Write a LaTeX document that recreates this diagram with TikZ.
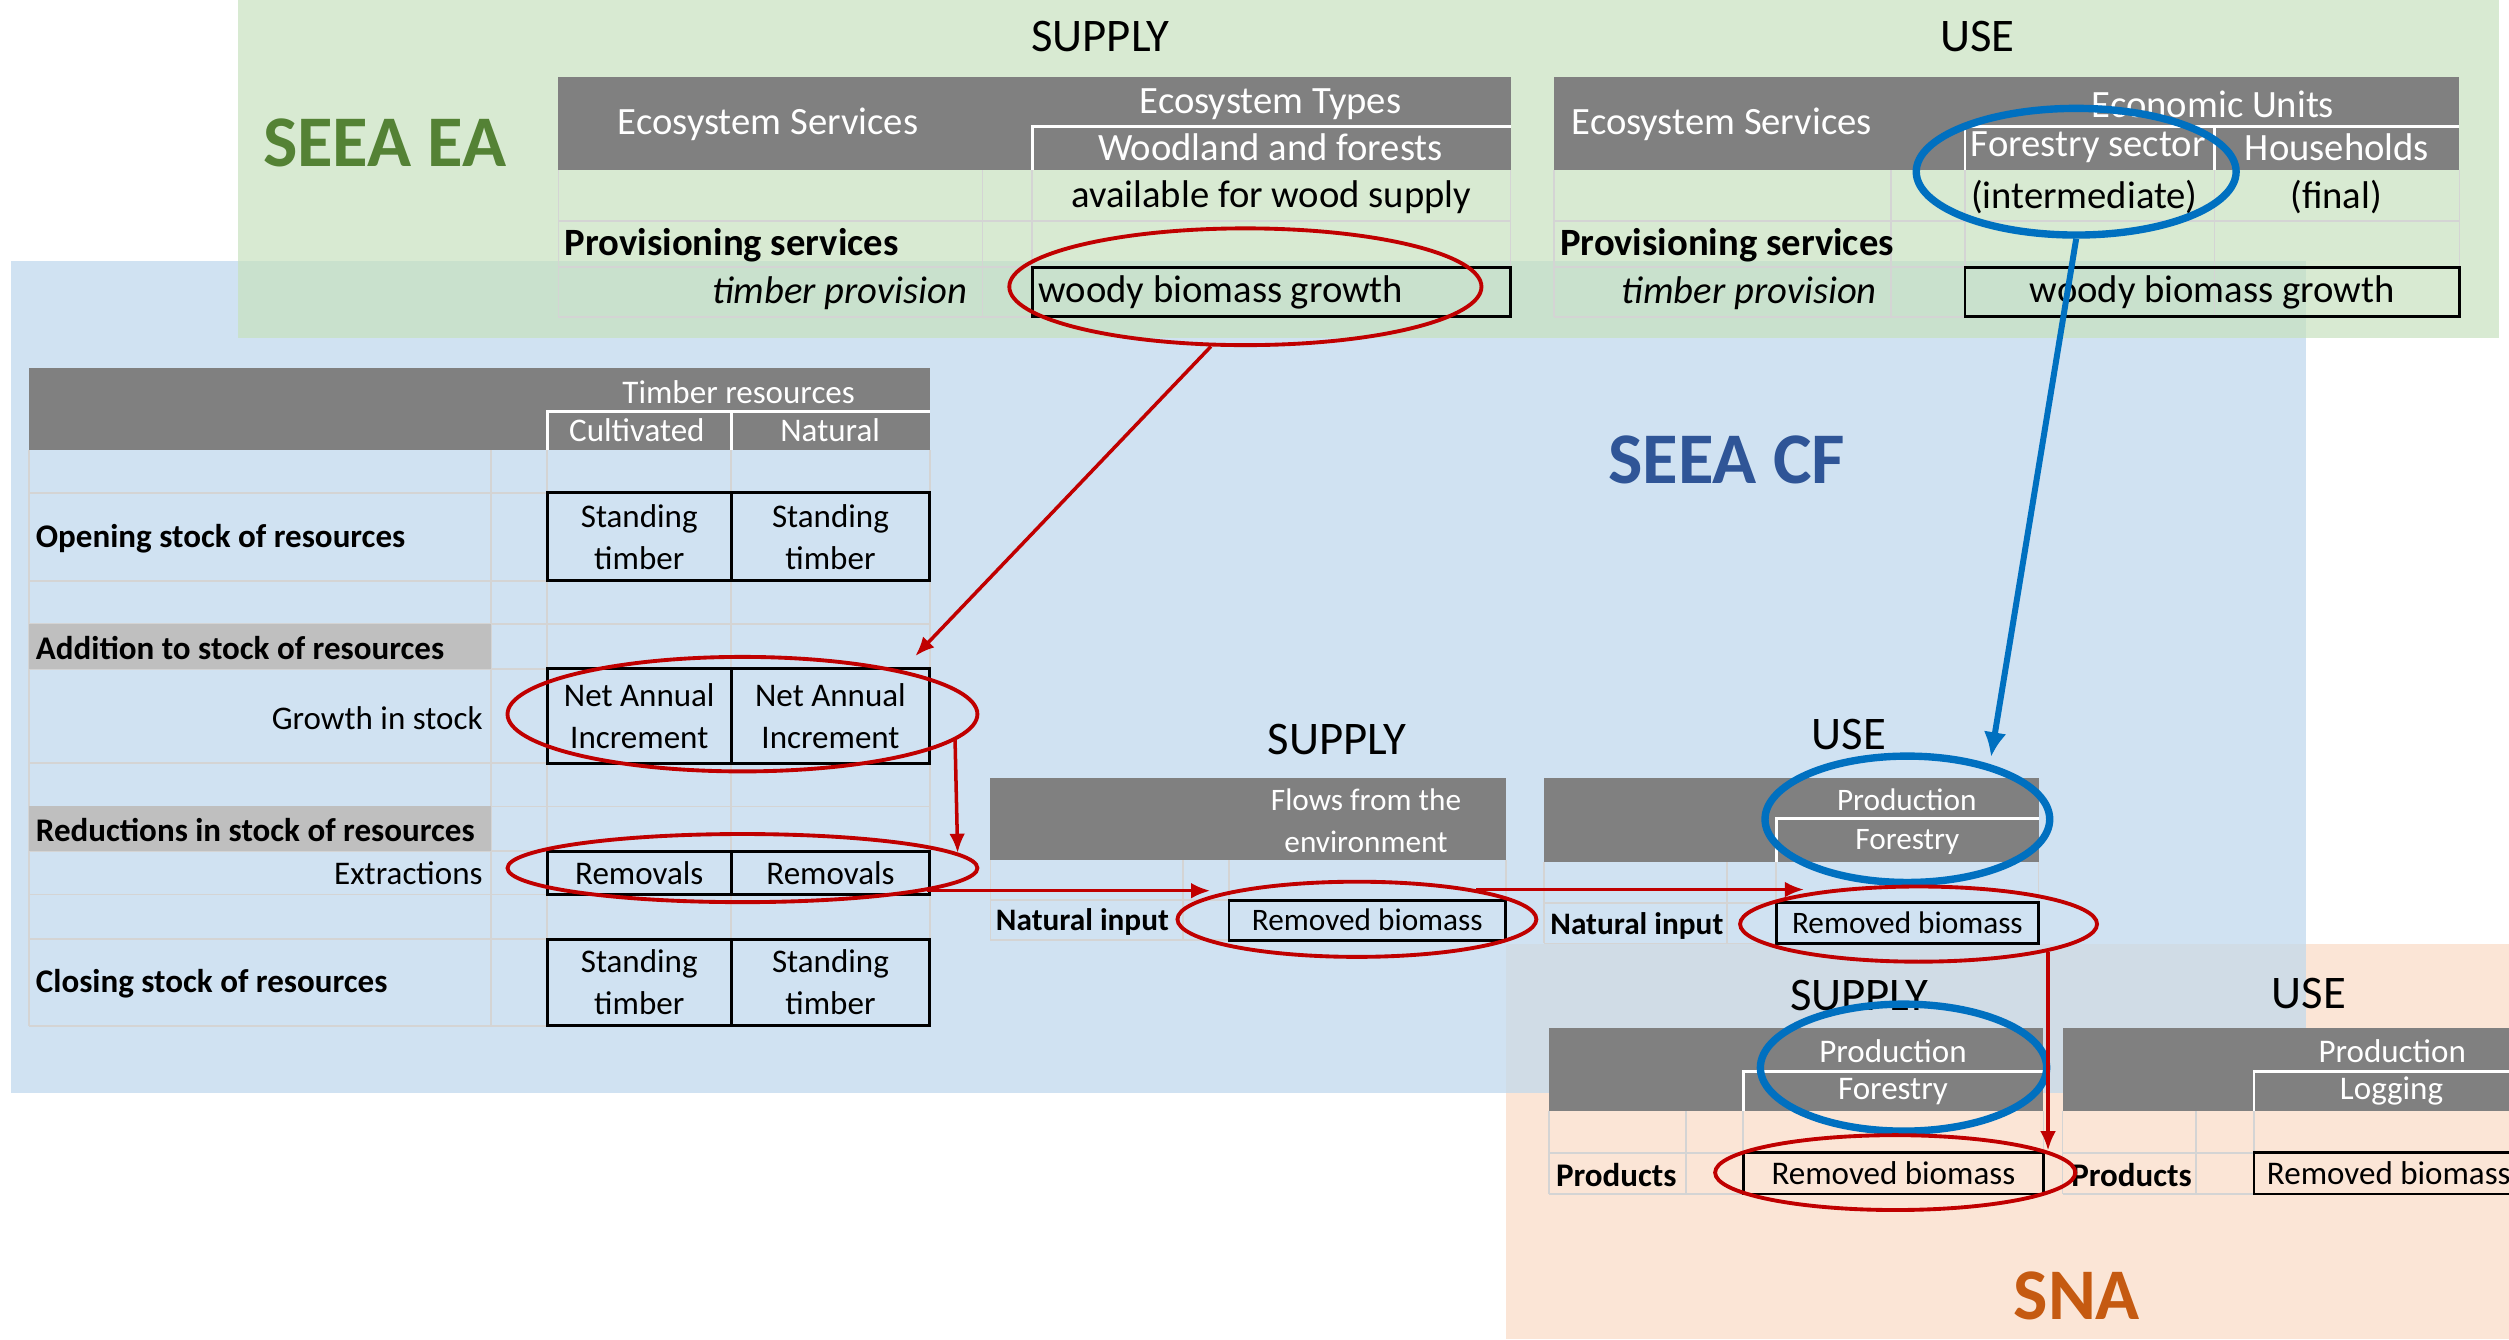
\documentclass[tikz,border=0pt]{standalone}
\usepackage{fontspec}
\setmainfont{Carlito}
\usepackage{xcolor}
\usepackage{tikz}
\usetikzlibrary{arrows.meta}
\usetikzlibrary{shapes.geometric}
\definecolor{eagreen}{HTML}{D8EAD2}
\definecolor{cfblue}{HTML}{D0E2F2}
\definecolor{snaorange}{HTML}{FBE5D6}
\definecolor{eacfmix}{HTML}{C9E1CD}
\definecolor{cfsnamix}{HTML}{D0DCE6}
\definecolor{hdrgray}{HTML}{808080}
\definecolor{lblgray}{HTML}{BFBFBF}
\definecolor{gridgray}{HTML}{D4D4D4}
\definecolor{ringred}{HTML}{C00000}
\definecolor{ringblue}{HTML}{0070C0}
\definecolor{eatext}{HTML}{548235}
\definecolor{cftext}{HTML}{2F5597}
\definecolor{snatext}{HTML}{C55A11}
\newcommand{\eafont}{\fontsize{11}{13.5}\selectfont}
\newcommand{\cffont}{\fontsize{9.4}{12}\selectfont}
\newcommand{\flowfont}{\fontsize{8.9}{11.8}\selectfont}
\newcommand{\ttlfont}{\fontsize{13.3}{16}\selectfont}
\newcommand{\brandfont}{\fontsize{20.7}{24}\selectfont\bfseries}

\begin{document}
\begin{tikzpicture}[x=0.016cm,y=-0.016cm,
  cellrule/.style={draw=gridgray,line width=0.5pt},
  whiterule/.style={draw=white,line width=0.8pt},
  ttl/.style={font=\ttlfont,inner sep=0pt},
  brand/.style={font=\brandfont,inner sep=0pt},
  eatxt/.style={font=\eafont,inner sep=0pt},
  cftxt/.style={font=\cffont,inner sep=0pt,align=center},
  flowtxt/.style={font=\flowfont,inner sep=0pt,align=center},
  wtxt/.style={text=white},
  valbox/.style 2 args={draw=black,line width=0.8pt,inner sep=0pt,
    minimum width=#1*0.016cm,minimum height=#2*0.016cm},
  ring/.style 2 args={ellipse,inner sep=0pt,
    minimum width=#1*0.032cm,minimum height=#2*0.032cm},
  redring/.style={draw=ringred,line width=1.1pt},
  bluering/.style={draw=ringblue,line width=2.1pt},
  redarr/.style={draw=ringred,line width=1pt,-{Latex[length=5.5pt,width=4.5pt]}},
  bluearr/.style={draw=ringblue,line width=1.7pt,-{Latex[length=7pt,width=6.5pt]}}]
\useasboundingbox (0,0) rectangle (1568,837);
\clip (0,0) rectangle (1568,837);
% account areas
\fill[eagreen] (149,0) rectangle (1562,211);
\fill[cfblue] (7,163) rectangle (1441,683);
\fill[snaorange] (941,590) rectangle (1568,837);
\fill[eacfmix] (149,163) rectangle (1441,211);
\fill[cfsnamix] (941,590) rectangle (1441,683);

%% SEEA EA
\node[brand,text=eatext] (seeaea) at (240.5,89.6) {SEEA EA};
\node[ttl] (easup) at (687.7,23) {SUPPLY};
\node[ttl] (eause) at (1235.6,23) {USE};
\foreach \y in {138,167,198}
    \draw[cellrule] (349,\y) -- (944,\y);
\foreach \x in {349,614,645,944}
    \draw[cellrule] (\x,106) -- (\x,198);
\fill[hdrgray] (349,48) rectangle (944,106);
\draw[whiterule] (944,79) -- (645,79) -- (645,106);
\node[eatxt,wtxt] (es1) at (480,77.5) {Ecosystem Services};
\node[eatxt,wtxt] (etypes) at (794,65) {Ecosystem Types};
\node[eatxt,wtxt] (ewood) at (794,92) {Woodland and forests};
\node[eatxt] (eavail) at (794.5,123) {available for wood supply};
\node[eatxt,anchor=west] (eprov1) at (352.6,153) {\textbf{Provisioning services}};
\node[eatxt,anchor=east] (etimb1) at (604.8,183) {\textit{timber provision}};
\node[eatxt,valbox={299}{31},text width=4.656cm,align=flush left] (egrow1) at (794.5,182.5) {woody biomass growth};

\foreach \y in {138,167,198}
    \draw[cellrule] (971,\y) -- (1537,\y);
\foreach \x in {971,1182,1228,1384,1537}
    \draw[cellrule] (\x,106) -- (\x,198);
\fill[hdrgray] (971,48) rectangle (1537,106);
\draw[whiterule] (1537,79) -- (1228,79) -- (1228,106);
\draw[whiterule] (1384,79) -- (1384,106);
\node[eatxt,wtxt] (es2) at (1076,77.5) {Ecosystem Services};
\node[eatxt,wtxt] (ecunits) at (1383,65) {Economic Units};
\node[eatxt,wtxt] (forsec) at (1305,92) {Forestry sector};
\node[eatxt,wtxt] (househ) at (1460.5,92) {Households};
\node[eatxt] (interm) at (1302.6,123) {(intermediate)};
\node[eatxt] (final) at (1460,123) {(final)};
\node[eatxt,anchor=west] (eprov2) at (974.6,153) {\textbf{Provisioning services}};
\node[eatxt,anchor=east] (etimb2) at (1173.3,183) {\textit{timber provision}};
\node[eatxt,valbox={309}{31}] (egrow2) at (1382.5,182.5) {woody biomass growth};

%% SEEA CF
\node[brand,text=cftext] (seeacf) at (1079,287.7) {SEEA CF};
% asset account
\foreach \y in {308,363,390,418,477,504,532,559,587,641}
    \draw[cellrule] (18,\y) -- (581,\y);
\foreach \x in {18,307,342,457,581}
    \draw[cellrule] (\x,281.5) -- (\x,641);
\fill[hdrgray] (18,230) rectangle (581,281.5);
\draw[whiterule] (581,257) -- (342,257) -- (342,281.5);
\draw[whiterule] (457,257) -- (457,281.5);
\fill[lblgray] (18,390) rectangle (307,418);
\fill[lblgray] (18,504) rectangle (307,532);
\node[cftxt,wtxt] (timres) at (461.6,245) {Timber resources};
\node[cftxt,wtxt] (cult) at (398,269) {Cultivated};
\node[cftxt,wtxt] (natur) at (518.8,269) {Natural};
\node[cftxt,anchor=west] (open) at (22,336.5) {\textbf{Opening stock of resources}};
\node[cftxt,anchor=west] (addit) at (22,405) {\textbf{Addition to stock of resources}};
\node[cftxt,anchor=east] (growth) at (302,448.5) {Growth in stock};
\node[cftxt,anchor=west] (reduc) at (22,519) {\textbf{Reductions in stock of resources}};
\node[cftxt,anchor=east] (extr) at (302,546) {Extractions};
\node[cftxt,anchor=west] (close) at (22,614.5) {\textbf{Closing stock of resources}};
\node[cftxt,valbox={115}{55}] (open1) at (399.5,335.5) {Standing\\timber};
\node[cftxt,valbox={124}{55}] (open2) at (519,335.5) {Standing\\timber};
\node[cftxt,valbox={115}{59}] (nai1) at (399.5,447.5) {Net Annual\\Increment};
\node[cftxt,valbox={124}{59}] (nai2) at (519,447.5) {Net Annual\\Increment};
\node[cftxt,valbox={115}{27}] (rem1) at (399.5,545.5) {Removals};
\node[cftxt,valbox={124}{27}] (rem2) at (519,545.5) {Removals};
\node[cftxt,valbox={115}{54}] (close1) at (399.5,614) {Standing\\timber};
\node[cftxt,valbox={124}{54}] (close2) at (519,614) {Standing\\timber};

% physical supply
\node[ttl] (cfsup) at (835.4,462) {SUPPLY};
\foreach \y in {562.5,587.5}
    \draw[cellrule] (619,\y) -- (941,\y);
\foreach \x in {619,739.5,768,941}
    \draw[cellrule] (\x,537.5) -- (\x,587.5);
\fill[hdrgray] (619,486.5) rectangle (941,537.5);
\node[flowtxt,wtxt] (flows) at (853.7,513) {Flows from the\\environment};
\node[flowtxt,anchor=west] (natin1) at (622,576) {\textbf{Natural input}};
\node[flowtxt,valbox={173}{25}] (rembio1) at (854.5,575) {Removed biomass};

% physical use
\node[ttl] (cfuse) at (1155.6,459) {USE};
\foreach \y in {564.2,589.6}
    \draw[cellrule] (965,\y) -- (1274,\y);
\foreach \x in {965,1079.4,1110,1274}
    \draw[cellrule] (\x,538.5) -- (\x,589.6);
\fill[hdrgray] (965,486.5) rectangle (1274,538.5);
\draw[whiterule] (1274,511.5) -- (1110,511.5) -- (1110,538.5);
\node[flowtxt,wtxt] (prod1) at (1191.6,500) {Production};
\node[flowtxt,wtxt] (fores1) at (1192,526) {Forestry};
\node[flowtxt,anchor=west] (natin2) at (968.5,578.5) {\textbf{Natural input}};
\node[flowtxt,valbox={164}{25.4}] (rembio2) at (1192,576.9) {Removed biomass};

%% SNA
\node[brand,text=snatext] (sna) at (1297.9,810) {SNA};
\node[ttl] (snasup) at (1162,622.4) {SUPPLY};
\foreach \y in {720.4,746.2}
    \draw[cellrule] (968,\y) -- (1277,\y);
\foreach \x in {968,1053.7,1089.5,1277}
    \draw[cellrule] (\x,694.2) -- (\x,746.2);
\fill[hdrgray] (968,642.7) rectangle (1277,694.2);
\draw[whiterule] (1277,669.8) -- (1089.5,669.8) -- (1089.5,694.2);
\node[cftxt,wtxt] (prod2) at (1183,657) {Production};
\node[cftxt,wtxt] (fores2) at (1183,682) {Forestry};
\node[cftxt,anchor=west] (prods1) at (972,734.5) {\textbf{Products}};
\node[cftxt,valbox={187.5}{25.8}] (rembio3) at (1183.25,733.3) {Removed biomass};

\node[ttl] (snause) at (1443,621) {USE};
\foreach \y in {720.4,746.2}
    \draw[cellrule] (1289,\y) -- (1600,\y);
\foreach \x in {1289,1372.4,1408.6}
    \draw[cellrule] (\x,694.2) -- (\x,746.2);
\fill[hdrgray] (1289,642.7) rectangle (1600,694.2);
\draw[whiterule] (1600,669.8) -- (1408.6,669.8) -- (1408.6,694.2);
\node[cftxt,wtxt] (prod3) at (1495,657) {Production};
\node[cftxt,wtxt] (logg) at (1494.6,682) {Logging};
\node[cftxt,anchor=west] (prods2) at (1294,734.5) {\textbf{Products}};
\node[cftxt,valbox={191.4}{25.8},text width=2.803cm,align=flush left] (rembio4) at (1504.3,733.3) {Removed biomass};

%% highlights
\node[ring={147.6}{36.5},redring] (ringEA) at (778.3,179.2) {};
\node[ring={100}{39.6},bluering] (ringEU) at (1297.5,107.3) {};
\node[ring={146.9}{35.8},redring] (ringNAI) at (464,446.3) {};
\node[ring={146.9}{21.3},redring] (ringRem) at (464,542.5) {};
\node[ring={112.2}{23.5},redring] (ringSup) at (848,574.5) {};
\node[ring={89}{39.5},bluering] (ringProd) at (1192,512) {};
\node[ring={111.6}{23.5},redring] (ringUse) at (1199,577.5) {};
\node[ring={89.5}{39.7},bluering] (ringProdS) at (1189.6,667.2) {};
\node[ring={112.6}{23.4},redring] (ringSNA) at (1184.4,732.8) {};

%% links
\coordinate (tipNAI) at (572,410);
\coordinate (tipProd) at (1244.3,473);
\coordinate (remE) at (ringRem.-7);
\coordinate (supE) at (ringSup.14);
\coordinate (useS) at (ringUse.-12);
\coordinate (xSup) at (756.4,0);
\coordinate (xUse) at (1127.5,0);
\coordinate (ySNA) at (0,719);
\coordinate (tipSup) at (remE -| xSup);
\coordinate (tipUse) at (supE -| xUse);
\coordinate (tipSNA) at (useS |- ySNA);
\draw[redarr] (ringEA.-120) -- (tipNAI);
\draw[bluearr] (ringEU.south) -- (tipProd);
\draw[redarr] (ringNAI.-7) -- (ringRem.4);
\draw[redarr] (remE) -- (tipSup);
\draw[redarr] (supE) -- (tipUse);
\draw[redarr] (useS) -- (tipSNA);
\end{tikzpicture}
\end{document}
